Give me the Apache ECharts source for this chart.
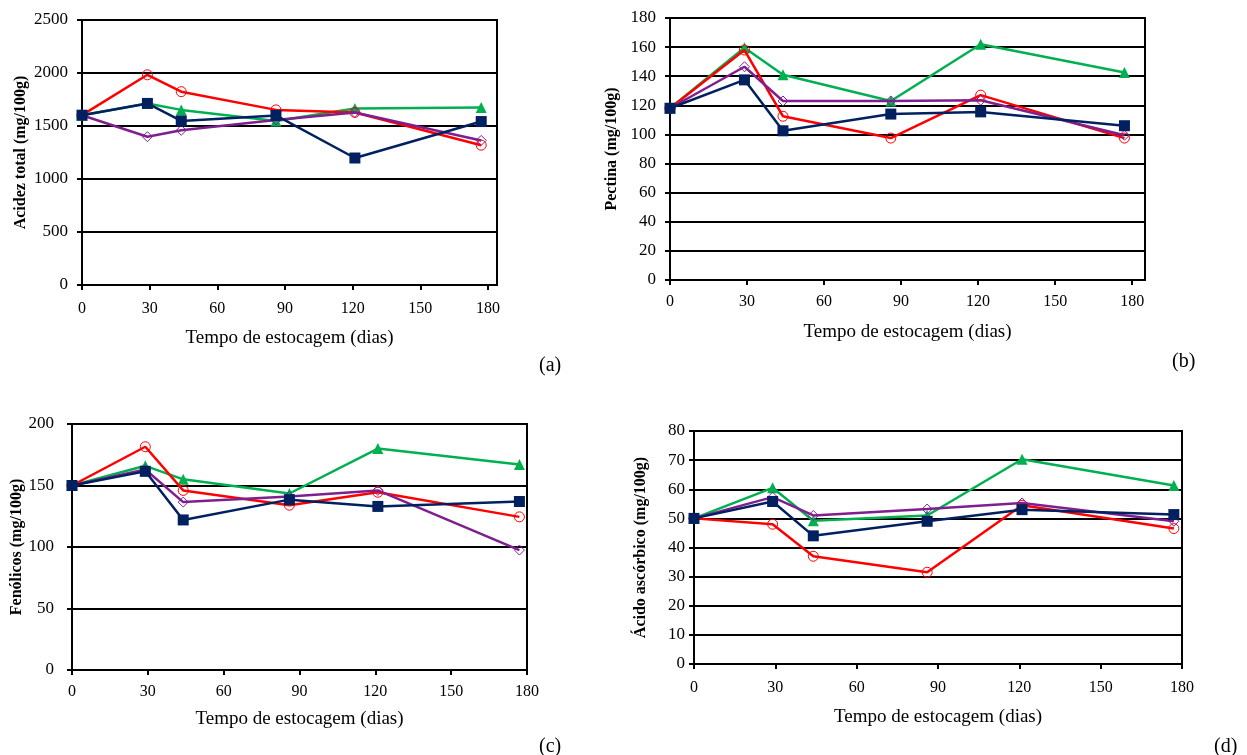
<!DOCTYPE html>
<html>
<head>
<meta charset="utf-8">
<title>Tempo de estocagem</title>
<script src="https://cdn.jsdelivr.net/npm/echarts@6/dist/echarts.min.js"></script>
<style>
    html, body { margin: 0; padding: 0; background: #ffffff; }
    #myChart { width: 1247px; height: 755px; }
</style>
</head>
<body>
<div id="myChart"></div>
<script>
    // dias de estocagem (eixo x comum aos 4 gráficos)
    var dias = [0, 29, 44, 86, 121, 177];

    // (a)
    var a_vermelho = [1602, 1983, 1824, 1652, 1628, 1319];
    var a_verde = [1602, 1713, 1652, 1548, 1665, 1675];
    var a_azul = [1602, 1713, 1548, 1600, 1198, 1542];
    var a_roxo = [1602, 1399, 1459, 1557, 1628, 1364];

    // (b)
    var b_vermelho = [118, 158, 112.5, 97.5, 127, 97.5];
    var b_verde = [118, 159.5, 141, 123, 162, 142.5];
    var b_azul = [118, 137.5, 102.5, 114, 115.5, 106];
    var b_roxo = [118, 146.5, 123, 123, 123.5, 99.5];

    // (c)
    var c_vermelho = [150, 181.5, 146, 134, 144.5, 124.5];
    var c_verde = [150, 166, 155, 143.5, 180, 167];
    var c_azul = [150, 161.5, 122, 138.5, 133, 137];
    var c_roxo = [150, 163, 136.5, 141, 146, 97.5];

    // (d)
    var d_vermelho = [50, 48, 37, 31.5, 54.5, 46.5];
    var d_verde = [50, 60.5, 49.2, 51, 70.3, 61.3];
    var d_azul = [50, 55.8, 44, 49, 53, 51.3];
    var d_roxo = [50, 57.3, 51, 53.2, 55.3, 49];

    var yNomes = ['Acidez total (mg/100g)', 'Pectina (mg/100g)', 'Fenólicos (mg/100g)', 'Ácido ascórbico (mg/100g)'];
    var paineis = ['(a)', '(b)', '(c)', '(d)'];

    const fonte = 'Liberation Serif';
    const cores = {
        vermelho: '#FF0000',
        verde: '#00B050',
        azul: '#002060',
        roxo: '#7F1F8F'
    };

    function pares(valores) {
        return dias.map(function (d, i) { return [d, valores[i]]; });
    }

    // posicoes dos 4 graficos
    var grids = [
        { left: 82, top: 20, width: 415, height: 265 },
        { left: 670, top: 18, width: 475, height: 262 },
        { left: 72, top: 424, width: 455, height: 246 },
        { left: 694, top: 431, width: 488, height: 233 }
    ];
    var xMax = [184, 185, 180, 180];
    var yMax = [2500, 180, 200, 80];
    var yInterval = [500, 20, 50, 10];
    var xNameGap = [44, 43, 40, 44];
    var xMargem = [16, 14, 14, 16];
    var yNameGap = [53, 50, 45, 45];
    var yMargem = [14, 14, 18, 9];

    var myChart = echarts.init(document.getElementById('myChart'));

    var xAxis = [], yAxis = [], series = [], titles = [];
    var dados = [
        [a_vermelho, a_verde, a_azul, a_roxo],
        [b_vermelho, b_verde, b_azul, b_roxo],
        [c_vermelho, c_verde, c_azul, c_roxo],
        [d_vermelho, d_verde, d_azul, d_roxo]
    ];
    var letraPos = [[534, 351], [1167, 347], [534, 732], [1209, 732]];

    for (var g = 0; g < 4; g++) {
        xAxis.push({
            gridIndex: g,
            type: 'value',
            min: 0,
            max: xMax[g],
            interval: 30,
            name: 'Tempo de estocagem (dias)',
            nameLocation: 'middle',
            nameGap: xNameGap[g],
            nameTextStyle: { fontFamily: fonte, fontSize: 19, color: '#000' },
            axisLine: { show: true, lineStyle: { color: '#000', width: 2 } },
            axisTick: { show: true, inside: false, length: 5, lineStyle: { color: '#000', width: 2 } },
            axisLabel: { fontFamily: fonte, fontSize: 16, color: '#000', margin: xMargem[g], showMaxLabel: xMax[g] === 180 },
            splitLine: { show: false }
        });
        yAxis.push({
            gridIndex: g,
            type: 'value',
            min: 0,
            max: yMax[g],
            interval: yInterval[g],
            name: yNomes[g],
            nameLocation: 'middle',
            nameRotate: 90,
            nameGap: yNameGap[g],
            nameTextStyle: { fontFamily: fonte, fontSize: 16, fontWeight: 'bold', color: '#000' },
            axisLine: { show: true, lineStyle: { color: '#000', width: 2 } },
            axisTick: { show: true, length: 5, lineStyle: { color: '#000', width: 2 } },
            axisLabel: {
                fontFamily: fonte, fontSize: 17, color: '#000', margin: yMargem[g],
                formatter: function (v) { return String(v); }
            },
            splitLine: { show: true, lineStyle: { color: '#000', width: 2 } }
        });
        var s = dados[g];
        series.push({
            name: 'vermelho', type: 'line', xAxisIndex: g, yAxisIndex: g,
            data: pares(s[0]), symbol: 'circle', symbolSize: 10,
            itemStyle: { color: 'none', borderColor: cores.vermelho, borderWidth: 1 },
            lineStyle: { color: cores.vermelho, width: 2.5 }, z: 3
        });
        series.push({
            name: 'verde', type: 'line', xAxisIndex: g, yAxisIndex: g,
            data: pares(s[1]), symbol: 'triangle', symbolSize: 11,
            itemStyle: { color: cores.verde },
            lineStyle: { color: cores.verde, width: 2.5 }, z: 2
        });
        series.push({
            name: 'azul', type: 'line', xAxisIndex: g, yAxisIndex: g,
            data: pares(s[2]), symbol: 'rect', symbolSize: 11,
            itemStyle: { color: cores.azul },
            lineStyle: { color: cores.azul, width: 2.5 }, z: 4
        });
        series.push({
            name: 'roxo', type: 'line', xAxisIndex: g, yAxisIndex: g,
            data: pares(s[3]), symbol: 'diamond', symbolSize: 10,
            itemStyle: { color: 'none', borderColor: cores.roxo, borderWidth: 1 },
            lineStyle: { color: cores.roxo, width: 2.5 }, z: 3
        });
        titles.push({
            text: paineis[g],
            left: letraPos[g][0],
            top: letraPos[g][1],
            textStyle: { fontFamily: fonte, fontSize: 20, fontWeight: 'normal', color: '#000' }
        });
    }

    myChart.setOption({
        animation: false,
        backgroundColor: '#ffffff',
        title: titles,
        grid: grids.map(function (r) {
            return Object.assign({ show: true, borderColor: '#000', borderWidth: 2, backgroundColor: 'transparent' }, r);
        }),
        xAxis: xAxis,
        yAxis: yAxis,
        series: series
    });
</script>
</body>
</html>
